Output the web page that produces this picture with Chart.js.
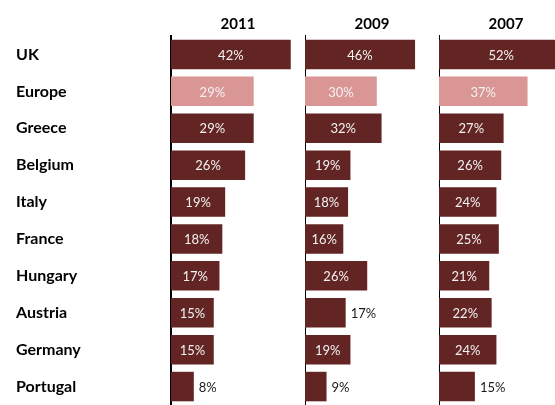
<!DOCTYPE html>
<html>
<head>
<meta charset="utf-8">
<script src="https://cdn.jsdelivr.net/npm/chart.js@4/dist/chart.umd.min.js"></script>
<style>
  html, body { margin: 0; padding: 0; background: #fff; overflow: hidden; }
  body { width: 555px; height: 405px; position: relative; }
  .panel { position: absolute; top: 0; height: 405px; }
</style>
</head>
<body>
<div class="panel" id="p0" style="left:0;width:305px"><canvas id="c0"></canvas></div>
<div class="panel" id="p1" style="left:305px;width:134px"><canvas id="c1"></canvas></div>
<div class="panel" id="p2" style="left:439px;width:134px"><canvas id="c2"></canvas></div>
<script>
const countries = ['UK', 'Europe', 'Greece', 'Belgium', 'Italy', 'France', 'Hungary', 'Austria', 'Germany', 'Portugal'];
const years = ['2011', '2009', '2007'];
const share2011 = [42, 29, 29, 26, 19, 18, 17, 15, 15, 8];
const share2009 = [46, 30, 32, 19, 18, 16, 26, 17, 19, 9];
const share2007 = [52, 37, 27, 26, 24, 25, 21, 22, 24, 15];
// labels written beside the bar instead of inside it
const outsideLabels = {
    '2011': ['Portugal'],
    '2009': ['Austria', 'Portugal'],
    '2007': ['Portugal']
};

const seriesByYear = [share2011, share2009, share2007];
const panelMax = [47, 56, 56];
const dark = '#632523';
const pink = '#d99694';
const font = 'Lato, "Open Sans", sans-serif';

const barLabels = {
    id: 'barLabels',
    afterDatasetsDraw(chart) {
        const ctx = chart.ctx;
        const year = chart.options.plugins.title.text;
        const meta = chart.getDatasetMeta(0);
        ctx.save();
        ctx.font = '13px ' + font;
        ctx.textBaseline = 'middle';
        meta.data.forEach(function(bar, i) {
            const txt = chart.data.datasets[0].data[i] + '%';
            if (outsideLabels[year].includes(countries[i])) {
                ctx.fillStyle = '#1a1a1a';
                ctx.textAlign = 'left';
                ctx.fillText(txt, bar.x + 5, bar.y + 1);
            } else {
                ctx.fillStyle = '#f2f2f2';
                ctx.textAlign = 'center';
                ctx.fillText(txt, (bar.base + bar.x) / 2, bar.y + 1);
            }
        });
        ctx.restore();
    }
};

years.forEach(function(year, k) {
    const first = k === 0;
    new Chart(document.getElementById('c' + k), {
        type: 'bar',
        data: {
            labels: countries,
            datasets: [{
                data: seriesByYear[k],
                backgroundColor: countries.map(c => c === 'Europe' ? pink : dark),
                categoryPercentage: 0.8,
                barPercentage: 1,
                borderWidth: 0
            }]
        },
        options: {
            indexAxis: 'y',
            responsive: true,
            maintainAspectRatio: false,
            animation: false,
            layout: { padding: { left: first ? 16 : 0, right: 0, top: 0, bottom: 0 } },
            plugins: {
                legend: { display: false },
                tooltip: { enabled: false },
                title: {
                    display: true,
                    text: year,
                    fullSize: false,
                    color: '#000',
                    font: { family: font, size: 15, weight: 'bold' },
                    padding: { top: 15, bottom: 3 }
                }
            },
            scales: {
                x: {
                    display: false,
                    min: 0,
                    max: panelMax[k]
                },
                y: {
                    grid: { display: false },
                    border: { display: true, color: '#000', width: 2 },
                    ticks: {
                        display: first,
                        crossAlign: 'far',
                        color: '#000',
                        padding: 0,
                        font: { family: font, size: 16, weight: 'bold' }
                    },
                    afterFit(scale) {
                        scale.width = first ? 155 : 0;
                        scale.paddingTop = 0;
                        scale.paddingBottom = 0;
                    }
                }
            }
        },
        plugins: [barLabels]
    });
});
</script>
</body>
</html>
